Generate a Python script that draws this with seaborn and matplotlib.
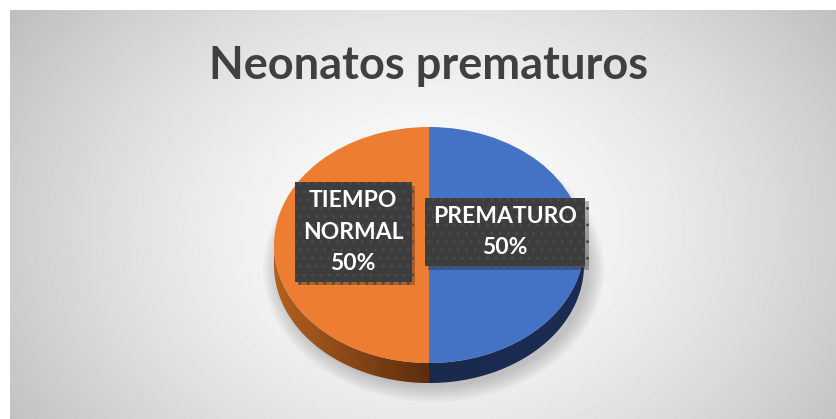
import numpy as np
import matplotlib
matplotlib.use("Agg")
import matplotlib.pyplot as plt
import matplotlib.patheffects as pe
from matplotlib.patches import Polygon, Ellipse
import seaborn as sns

# data
categories = ['PREMATURO', 'TIEMPO NORMAL']
values = [50, 50]
pct_labels = ['50%', '50%']
title = 'Neonatos prematuros'

top_colors = ['#4472c4', '#ed7d31']
# side gradient (outer edge -> centre line)
side_colors = [('#1c2d55', '#1a2a4c'), ('#b4601f', '#5b2e0e')]

sns.set_theme(style='white')
plt.rcParams['font.family'] = ['Lato', 'DejaVu Sans']

W, H = 837, 419
fig = plt.figure(figsize=(W / 100, H / 100), dpi=100)
fig.patch.set_facecolor('white')

# background with radial gradient
bg = fig.add_axes([0, 0, 1, 1])
bg.set_xlim(0, W)
bg.set_ylim(H, 0)
bg.axis('off')
yy, xx = np.mgrid[11:H, 10:W]
r = np.sqrt(((xx - 430) / 430.0) ** 2 + ((yy - 230) / 330.0) ** 2)
gray = np.clip(1 - 0.2 * r ** 1.5, 0.74, 1)
bg.imshow(gray, cmap='gray', vmin=0, vmax=1, extent=(10, W, H, 11), aspect='auto')

fig.text(429 / W, 1 - 79 / H, title, ha='center', va='baseline',
         fontsize=32.5, fontweight='bold', color='#404040')

# pie geometry (pixels)
cx, cy, rx, ry = 429, 245, 155, 118
depth = 0.17
ylo, yhi = -1.45, 1.25
ax = fig.add_axes([(cx - 1.25 * rx) / W, 1 - (cy - ylo * ry) / H,
                   2.5 * rx / W, (yhi - ylo) * ry / H])
ax.axis('off')

wedges, _ = ax.pie(values, colors=top_colors, startangle=90, counterclock=False,
                   wedgeprops=dict(linewidth=0, zorder=4))

# soft shadow under the pie
for k in np.linspace(0.0, 0.1, 9):
    ax.add_patch(Ellipse((0.03, -depth - 0.03), 2 * (1 + k), 2 * (1 + k * 1.3),
                         facecolor='#606060', edgecolor='none', alpha=0.04, zorder=1))

# 3D side of each wedge
for w, (c_out, c_in) in zip(wedges, side_colors):
    t1, t2 = w.theta1, w.theta2
    for lo, hi in [(-180, 0), (180, 360)]:
        a, b = max(t1, lo), min(t2, hi)
        if b <= a:
            continue
        th = np.radians(np.linspace(a, b, 80))
        xs, ys = np.cos(th), np.sin(th)
        pts = np.vstack([np.column_stack([xs, ys]),
                         np.column_stack([xs[::-1], ys[::-1] - depth])])
        poly = Polygon(pts, closed=True, facecolor='none', edgecolor='none', zorder=2)
        ax.add_patch(poly)
        x0, x1 = pts[:, 0].min(), pts[:, 0].max()
        c0 = np.array(matplotlib.colors.to_rgb(c_out))
        c1 = np.array(matplotlib.colors.to_rgb(c_in))
        # outer edge is the point farthest from x = 0
        xl = np.linspace(x0, x1, 200)
        f = 1 - np.abs(xl) / max(abs(x0), abs(x1))
        grad = (c0[None, :] * (1 - f[:, None]) + c1[None, :] * f[:, None])[None, :, :]
        im = ax.imshow(grad, extent=(x0, x1, pts[:, 1].min(), pts[:, 1].max()),
                       aspect='auto', zorder=2)
        im.set_clip_path(poly)

ax.set_xlim(-1.25, 1.25)
ax.set_ylim(ylo, yhi)
ax.set_aspect('auto')

# data labels
for w, cat, pct in zip(wedges, categories, pct_labels):
    mid = np.radians((w.theta1 + w.theta2) / 2)
    txt = cat.replace(' ', '\n') + '\n' + pct
    t = ax.text(0.49 * np.cos(mid), 0.49 * np.sin(mid) + 0.11, txt,
                ha='center', va='center', multialignment='center',
                fontsize=16.5, fontweight='bold', color='white', linespacing=1.6,
                zorder=6,
                bbox=dict(boxstyle='square,pad=0.36', facecolor='#3d3d3d',
                          edgecolor='#4a4a4a', linewidth=0, hatch='..'))
    t.get_bbox_patch().set_path_effects(
        [pe.withSimplePatchShadow(offset=(2.5, -2.5), shadow_rgbFace='k', alpha=0.3),
         pe.Normal()])

fig.savefig('out.png', dpi=100)
